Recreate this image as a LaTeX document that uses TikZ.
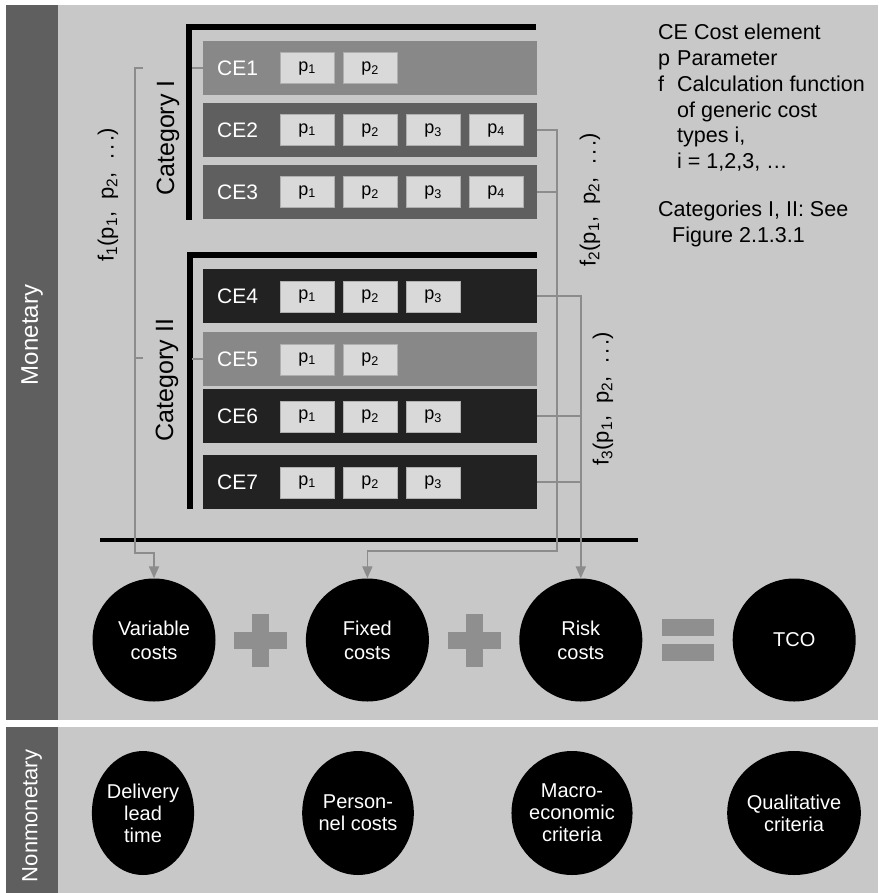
\documentclass[tikz,border=0pt]{standalone}
\usepackage{fontspec}
\setmainfont{Liberation Sans}
\usetikzlibrary{positioning,arrows.meta,shapes.geometric,calc}

\definecolor{panelgray}{HTML}{C8C8C8}
\definecolor{stripgray}{HTML}{5F5F5F}
\definecolor{rowmid}{HTML}{888888}
\definecolor{rowdark}{HTML}{5F5F5F}
\definecolor{rowblack}{HTML}{222222}
\definecolor{pgray}{HTML}{D9D9D9}
\definecolor{pedge}{HTML}{AFAFAF}
\definecolor{linkgray}{HTML}{8C8C8C}
\definecolor{opgray}{HTML}{8F8F8F}

\newcommand{\fsize}[2]{\fontsize{#1}{#2}\selectfont}

\begin{document}
\begin{tikzpicture}[
  x=1pt, y=-1pt, font=\fsize{20}{24}, >={Triangle[length=12pt,width=10pt]},
  sidetext/.style={text=white, rotate=90, font=\fsize{22}{26}},
  cerow/.style={anchor=north west, minimum width=334pt, minimum height=54pt,
                inner sep=0pt},
  celabel/.style={text=white, anchor=west, inner sep=0pt, font=\fsize{21}{24}},
  pbox/.style={fill=pgray, draw=pedge, anchor=west, minimum width=54pt,
               minimum height=31pt, inner sep=0pt, font=\fsize{18}{20}},
  catlabel/.style={rotate=90, font=\fsize{25}{28}},
  fnlabel/.style={rotate=90, font=\fsize{22}{26}},
  bracket/.style={line width=6pt, line join=miter},
  wire/.style={draw=linkgray, line width=1.8pt},
  flow/.style={wire, ->},
  cost/.style={circle, fill=black, text=white, minimum size=123pt,
               inner sep=0pt, align=center},
  crit/.style={ellipse, fill=black, text=white, minimum width=102pt,
               minimum height=124pt, inner sep=0pt, align=center,
               font=\fsize{20}{22}},
]
% page and the two bands
\useasboundingbox (0,0) rectangle (878,893);
\fill[white] (0,0) rectangle (878,893);
\fill[stripgray] (6,5) rectangle (58,720);
\fill[panelgray] (58,5) rectangle (878,720);
\fill[stripgray] (6,727) rectangle (58,893);
\fill[panelgray] (58,727) rectangle (878,893);
\node[sidetext, font=\fsize{24}{28}] (mon) at (32,335) {Monetary};
\node[sidetext] (nonmon) at (32,816) {Nonmonetary};

% category brackets
\draw[bracket] (536,27) -- (189,27) -- (189,220);
\draw[bracket] (537,255) -- (190,255) -- (190,509);
\node[catlabel] (cat1) at (168,138) {Category I};
\node[catlabel] (cat2) at (167,380) {Category II};

% cost element rows with their parameters
\foreach \i/\ypos/\col/\np in {1/41/rowmid/2, 2/103/rowdark/4, 3/165/rowdark/4,
    4/269/rowblack/3, 5/332/rowmid/2, 6/389/rowblack/3, 7/455/rowblack/3} {
  \node[cerow, fill=\col] (ce\i) at (203,\ypos) {};
  \node[celabel] (ce\i-txt) at ([xshift=14pt]ce\i.west) {CE\i};
  \foreach \j in {1,...,\np}
    \node[pbox] (p\i\j) at ([xshift={77pt+(\j-1)*63pt}]ce\i.west) {p\textsubscript{\j}};
}

% legend
\node[anchor=north west, align=left, inner sep=0pt, font=\fsize{21.5}{25.8}]
  (legend) at (658,24)
  {CE Cost element\\
   \makebox[19pt][l]{p}Parameter\\
   \makebox[19pt][l]{f}Calculation function\\
   \hspace*{19pt}of generic cost\\
   \hspace*{19pt}types i,\\
   \hspace*{19pt}i = 1,2,3, \dots\\[22pt]
   Categories I, II: See\\
   \hspace*{14pt}Figure 2.1.3.1};

% sum line and cost circles
\draw[line width=4pt] (100,540) -- (638,540);
\node[cost] (var) at (154,640) {Variable\\costs};
\node[cost, right=90pt of var] (fix) {Fixed\\costs};
\node[cost, right=90pt of fix] (risk) {Risk\\costs};
\node[cost, right=90pt of risk] (tco) {TCO};
\foreach \a/\b in {var/fix, fix/risk} {
  \fill[opgray] ($(\a)!0.5!(\b)$) ++(-26.5,-8.5) rectangle ++(53,17);
  \fill[opgray] ($(\a)!0.5!(\b)$) ++(-8.5,-26.5) rectangle ++(17,53);
}
\fill[opgray] ($(risk)!0.5!(tco)$) ++(-26,-21) rectangle ++(52,17);
\fill[opgray] ($(risk)!0.5!(tco)$) ++(-26,4) rectangle ++(52,17);

% calculation functions
\coordinate (f1top) at (143,68);
\coordinate (f1mid) at (143,358);
\coordinate (f2bend) at (557,551);
\draw[wire] (ce1.west) -- ++(-11,0);
\draw[wire] (ce5.west) -- ++(-11,0);
\draw[wire] (f1mid) -- (135,358);
\draw[flow] (f1top) -| (135,553) -| (var.north);
\draw[flow] (ce2.east) -| (f2bend) -| (fix.north);
\draw[wire] (ce3.east) -- (ce3.east -| f2bend);
\draw[flow] (ce4.east) -| (risk.north);
\draw[wire] (ce6.east) -- (ce6.east -| risk.north);
\draw[wire] (ce7.east) -- (ce7.east -| risk.north);
\node[fnlabel] (f1lbl) at (108,195)
  {f\textsubscript{1}(p\textsubscript{1},\ \ p\textsubscript{2},\ \ .\hspace{3pt}.\hspace{3pt}.)};
\node[fnlabel] (f2lbl) at (590,200)
  {f\textsubscript{2}(p\textsubscript{1},\ \ p\textsubscript{2},\ \ .\hspace{3pt}.\hspace{3pt}.)};
\node[fnlabel] (f3lbl) at (603,399)
  {f\textsubscript{3}(p\textsubscript{1},\ \ p\textsubscript{2},\ \ .\hspace{3pt}.\hspace{3pt}.)};

% nonmonetary criteria
\node[crit] (del) at (143,813) {Delivery\\lead\\time};
\node[crit] (pers) at (358,813) {Person-\\nel costs};
\node[crit] (macro) at (572,813) {Macro-\\economic\\criteria};
\node[crit, minimum width=122pt] (qual) at (794,813) {Qualitative\\criteria};
\end{tikzpicture}
\end{document}
